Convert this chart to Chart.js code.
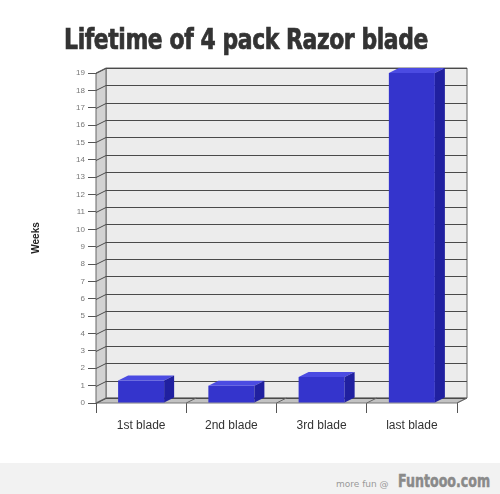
<!DOCTYPE html>
<html>
<head>
<meta charset="utf-8">
<script src="https://cdn.jsdelivr.net/npm/chart.js@4/dist/chart.umd.min.js"></script>
<style>
  body { margin: 0; background: #fff; width: 500px; height: 494px; overflow: hidden; position: relative; }
  #wrap { position: absolute; left: 0; top: 0; width: 500px; height: 463px; }
  #title { position: absolute; left: -4px; width: 500px; top: 22px; text-align: center;
    font: bold 29px "DejaVu Sans Condensed", "Liberation Sans Narrow", sans-serif; color: #333;
    -webkit-text-stroke: 0.7px #333; transform: scaleX(0.84); letter-spacing: -0.5px; white-space: nowrap; }
  #footer { position: absolute; left: 0; top: 463px; width: 500px; height: 31px; background: #f2f2f2; }
  #more { position: absolute; left: 336px; top: 16px; font: 9px "DejaVu Sans", sans-serif; color: #999; }
  #site { position: absolute; left: 398px; top: 7px; font: bold 18px "DejaVu Sans Condensed", sans-serif;
    color: #8a8a8a; -webkit-text-stroke: 0.5px #8a8a8a; transform: scaleX(0.78); transform-origin: left; }
</style>
</head>
<body>
<div id="wrap"><canvas id="RazorChart" width="500" height="463"></canvas></div>
<div id="title">Lifetime of 4 pack Razor blade</div>
<div id="footer"><span id="more">more fun @</span><span id="site">Funtooo.com</span></div>
<script>
const Categories = ["1st blade", "2nd blade", "3rd blade", "last blade"];
const WeeksUsed = [1.3, 1.0, 1.5, 19];
const YMax = 19;

const DepthX = 10;
const DepthY = -5;

function poly(ctx, pts, fill, stroke) {
    ctx.beginPath();
    ctx.moveTo(pts[0][0], pts[0][1]);
    for (let i = 1; i < pts.length; i++) ctx.lineTo(pts[i][0], pts[i][1]);
    ctx.closePath();
    ctx.fillStyle = fill;
    ctx.fill();
    if (stroke) {
        ctx.strokeStyle = stroke;
        ctx.stroke();
    }
}

// walls, floor and back grid lines, plus bar tops / sides for the 3d look
const Box3d = {
    id: "box3d",
    beforeDatasetsDraw(chart) {
        const ctx = chart.ctx;
        const { left, right, top, bottom } = chart.chartArea;
        const yScale = chart.scales.y;
        const xScale = chart.scales.x;
        ctx.save();
        ctx.lineWidth = 1;
        poly(ctx, [[left + DepthX, top + DepthY], [right + DepthX, top + DepthY], [right + DepthX, bottom + DepthY], [left + DepthX, bottom + DepthY]], "#ececec", "#666");
        poly(ctx, [[left, top], [left + DepthX, top + DepthY], [left + DepthX, bottom + DepthY], [left, bottom]], "#d2d2d2", "#666");
        poly(ctx, [[left, bottom], [left + DepthX, bottom + DepthY], [right + DepthX, bottom + DepthY], [right, bottom]], "#c2c2c2", "#777");

        ctx.strokeStyle = "#4a4a4a";
        yScale.ticks.forEach(function (t) {
            const py = Math.round(yScale.getPixelForValue(t.value)) + 0.5;
            ctx.beginPath();
            ctx.moveTo(left, py);
            ctx.lineTo(left + DepthX, py + DepthY);
            ctx.lineTo(right + DepthX, py + DepthY);
            ctx.stroke();
        });
        // little diagonals on the floor at category boundaries
        ctx.strokeStyle = "#666";
        for (let i = 1; i <= Categories.length; i++) {
            const bx = xScale.getPixelForValue(i - 0.5);
            ctx.beginPath();
            ctx.moveTo(bx, bottom);
            ctx.lineTo(bx + DepthX, bottom + DepthY);
            ctx.stroke();
        }
        ctx.restore();
    },
    afterDatasetsDraw(chart) {
        const ctx = chart.ctx;
        const meta = chart.getDatasetMeta(0);
        ctx.save();
        meta.data.forEach(function (bar) {
            const p = bar.getProps(["x", "y", "base", "width"], true);
            const L = p.x - p.width / 2;
            const R = p.x + p.width / 2;
            poly(ctx, [[L, p.y], [L + DepthX, p.y + DepthY], [R + DepthX, p.y + DepthY], [R, p.y]], "#4b4be2");
            poly(ctx, [[R, p.y], [R + DepthX, p.y + DepthY], [R + DepthX, p.base + DepthY], [R, p.base]], "#2020a0");
        });
        ctx.restore();
    }
};

const RazorChart = new Chart(document.getElementById("RazorChart").getContext("2d"), {
    type: "bar",
    data: {
        labels: Categories,
        datasets: [{
            label: "Weeks",
            data: WeeksUsed,
            backgroundColor: "#3434cc",
            borderWidth: 0,
            categoryPercentage: 1,
            barPercentage: 0.51
        }]
    },
    options: {
        responsive: false,
        animation: false,
        layout: { padding: { top: 73, left: 30, right: 43, bottom: 20 } },
        plugins: {
            legend: { display: false },
            tooltip: { enabled: false }
        },
        scales: {
            x: {
                grid: { drawOnChartArea: false, tickLength: 10, color: "#555", offset: true },
                border: { display: false },
                ticks: { color: "#333", font: { size: 12, family: "Liberation Sans, Arial, sans-serif" }, padding: 5 },
                afterFit: function (scale) { scale.height = 40; }
            },
            y: {
                min: 0,
                max: YMax,
                ticks: { stepSize: 1, color: "#777", font: { size: 8, family: "Liberation Sans, Arial, sans-serif" }, padding: 3 },
                grid: { drawOnChartArea: false, tickLength: 8, color: "#555" },
                border: { display: true, color: "#555" },
                title: { display: true, text: "Weeks", color: "#222", font: { size: 10, weight: "bold", family: "Liberation Sans, Arial, sans-serif" }, padding: 0 },
                afterFit: function (scale) { scale.width = 66; }
            }
        }
    },
    plugins: [Box3d]
});
</script>
</body>
</html>
